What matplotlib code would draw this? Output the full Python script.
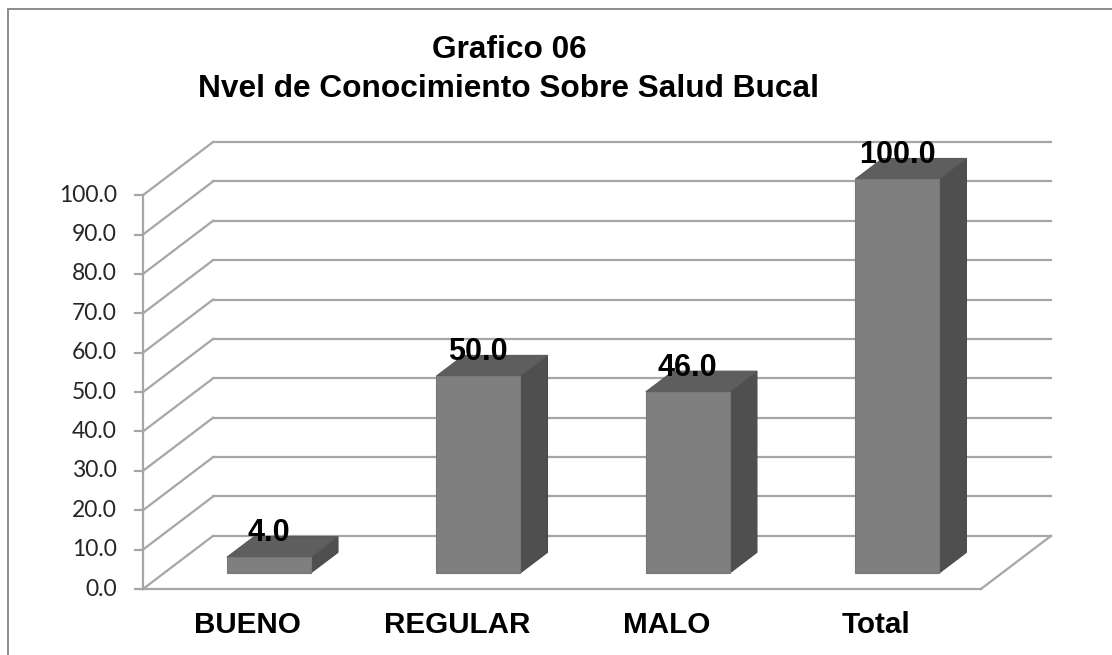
import matplotlib
matplotlib.use("Agg")
import matplotlib.pyplot as plt
from matplotlib.patches import Polygon

# Data
categories = ["BUENO", "REGULAR", "MALO", "Total"]
values = [4.0, 50.0, 46.0, 100.0]
yticks = [0, 10, 20, 30, 40, 50, 60, 70, 80, 90, 100]
title_1 = "Grafico 06"
title_2 = "Nvel de Conocimiento Sobre Salud Bucal"

# oblique depth offset (in data units)
DX = 0.3345
DY = 13.49
n = len(categories)
ymax = 100


def proj(x, y, z):
    return (x + DX * z, y + DY * z)


fig = plt.figure(figsize=(11.12, 6.55), dpi=100)
W, H = 1112, 655
ax = fig.add_axes([143 / W, (H - 589) / H, 908 / W, 447 / H])
ax.set_xlim(0, n + DX)
ax.set_ylim(0, ymax + DY)
ax.axis("off")

grid_c = "#a6a6a6"
# back wall and side wall gridlines
for v in yticks:
    x0, y0 = proj(0, v, 1)
    x1, y1 = proj(n, v, 1)
    ax.plot([x0, x1], [y0, y1], color=grid_c, lw=1.6, clip_on=False, zorder=1)
    xa, ya = proj(0, v, 0)
    ax.plot([xa, x0], [ya, y0], color=grid_c, lw=1.6, clip_on=False, zorder=1)
    # tick mark
    ax.plot([-0.038, 0], [v, v], color=grid_c, lw=1.6, clip_on=False, zorder=1)
    ax.text(-0.124, v, f"{v:.1f}", ha="right", va="center", fontsize=16.5,
            family="Lato", color="#262626")

# front axis line and floor
ax.plot([0, 0], [0, ymax], color=grid_c, lw=1.6, clip_on=False, zorder=1)
ax.plot([0, n], [0, 0], color=grid_c, lw=1.6, clip_on=False, zorder=1)
fx, fy = proj(n, 0, 1)
ax.plot([n, fx], [0, fy], color=grid_c, lw=1.6, clip_on=False, zorder=1)

# bars
z0, z1 = 0.3, 0.69
for i, (cat, v) in enumerate(zip(categories, values)):
    xl, xr = i + 0.3, i + 0.7
    front = [proj(xl, 0, z0), proj(xr, 0, z0), proj(xr, v, z0), proj(xl, v, z0)]
    top = [proj(xl, v, z0), proj(xr, v, z0), proj(xr, v, z1), proj(xl, v, z1)]
    side = [proj(xr, 0, z0), proj(xr, 0, z1), proj(xr, v, z1), proj(xr, v, z0)]
    ax.add_patch(Polygon(side, closed=True, facecolor="#4f4f4f",
                         edgecolor="#4a4a4a", lw=0.8, zorder=3, clip_on=False))
    ax.add_patch(Polygon(top, closed=True, facecolor="#5e5e5e",
                         edgecolor="#595959", lw=0.8, zorder=3, clip_on=False))
    ax.add_patch(Polygon(front, closed=True, facecolor="#7f7f7f",
                         edgecolor="#777777", lw=0.8, zorder=4, clip_on=False))
    lx, ly = proj(i + 0.5, v, z0)
    ax.text(lx, v + 8.2, f"{v:.1f}", ha="center", va="baseline",
            fontsize=22, fontweight="bold", family="Liberation Sans",
            color="black", zorder=5)
    ax.text(i + 0.5, -9.2, cat, ha="center", va="center", fontsize=21.3,
            fontweight="bold", family="Liberation Sans", color="black")

# titles
fig.text(509 / W, 1 - 58 / H, title_1, ha="center", va="baseline",
         fontsize=22.8, fontweight="bold", family="Liberation Sans")
fig.text(509 / W, 1 - 97 / H, title_2, ha="center", va="baseline",
         fontsize=22.8, fontweight="bold", family="Liberation Sans")

# chart border
fig.add_artist(plt.Line2D([7.5 / W, 7.5 / W], [0, 1 - 8.5 / H],
                          color="#8c8c8c", lw=1.4))
fig.add_artist(plt.Line2D([7.5 / W, 1], [1 - 8.5 / H, 1 - 8.5 / H],
                          color="#8c8c8c", lw=1.4))

fig.savefig("out.png", dpi=100)
